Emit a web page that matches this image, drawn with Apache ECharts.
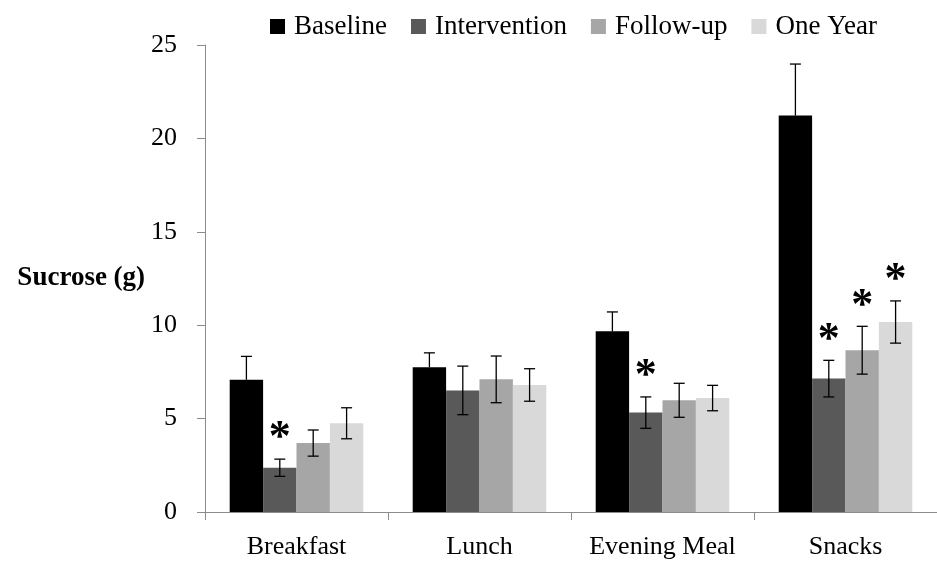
<!DOCTYPE html>
<html><head><meta charset="utf-8">
<script src="https://cdn.jsdelivr.net/npm/echarts@6/dist/echarts.min.js"></script>
<style>html,body{margin:0;padding:0;background:#fff}#c{width:937px;height:568px}</style>
</head><body><div id="c"></div>
<script>
var categories = ['Breakfast', 'Lunch', 'Evening Meal', 'Snacks'];
var seriesNames = ['Baseline', 'Intervention', 'Follow-up', 'One Year'];
var baseline     = [7.08, 7.75, 9.67, 21.22];
var intervention = [2.37, 6.51, 5.32, 7.14];
var followUp     = [3.69, 7.10, 5.98, 8.66];
var oneYear      = [4.75, 6.80, 6.10, 10.17];
var baselineErr     = [1.25, 0.77, 1.04, 2.76];
var interventionErr = [0.46, 1.30, 0.84, 0.98];
var followUpErr     = [0.70, 1.25, 0.91, 1.28];
var oneYearErr      = [0.83, 0.87, 0.68, 1.13];
var baselineSig     = [0, 0, 0, 0];
var interventionSig = [1, 0, 1, 1];
var followUpSig     = [0, 0, 0, 1];
var oneYearSig      = [0, 0, 0, 1];
var yTicks = [0, 5, 10, 15, 20, 25];

var values = [baseline, intervention, followUp, oneYear];
var errs = [baselineErr, interventionErr, followUpErr, oneYearErr];
var sigs = [baselineSig, interventionSig, followUpSig, oneYearSig];
var colors = ['#000000', '#595959', '#a6a6a6', '#d9d9d9'];
var FONT = 'Liberation Serif';
var CAT_GAP = 0.27;

var series = [];
seriesNames.forEach(function (name, i) {
  series.push({
    name: name, type: 'bar', data: values[i],
    barGap: '0%', barCategoryGap: (CAT_GAP * 100) + '%',
    itemStyle: { color: colors[i] },
    emphasis: { disabled: true }
  });
});
seriesNames.forEach(function (name, i) {
  series.push({
    type: 'custom', silent: true, z: 5,
    data: values[i].map(function (v, k) { return [k, v, errs[i][k], sigs[i][k]]; }),
    encode: { x: 0, y: [1] },
    renderItem: function (params, api) {
      var k = api.value(0), v = api.value(1), e = api.value(2), s = api.value(3);
      var bandW = api.size([1, 0])[0];
      var barW = bandW * (1 - CAT_GAP) / 4;
      var c = api.coord([k, v]);
      var x = c[0] + (i - 1.5) * barW;
      var top = api.coord([k, v + e])[1];
      var bot = api.coord([k, v - e])[1];
      var cap = 5.5;
      var st = { stroke: '#000', lineWidth: 1.3 };
      var kids = [
        { type: 'line', shape: { x1: x, y1: top, x2: x, y2: (i === 0 ? c[1] : bot) }, style: st },
        { type: 'line', shape: { x1: x - cap, y1: top, x2: x + cap, y2: top }, style: st }
      ];
      if (i !== 0) kids.push({ type: 'line', shape: { x1: x - cap, y1: bot, x2: x + cap, y2: bot }, style: st });
      if (s) kids.push({ type: 'text', style: { text: '*', x: x, y: top - 20, align: 'center', verticalAlign: 'middle', font: 'bold 44px ' + FONT, fill: '#000' } });
      return { type: 'group', children: kids };
    }
  });
});

var chart = echarts.init(document.getElementById('c'));
chart.setOption({
  animation: false,
  textStyle: { fontFamily: FONT },
  legend: {
    data: seriesNames, top: 8, left: 265, itemWidth: 15, itemHeight: 15, itemGap: 24,
    textStyle: { fontFamily: FONT, fontSize: 27, color: '#000', padding: [0, 0, 0, 4] },
    icon: 'rect'
  },
  grid: { left: 205, right: 0, top: 45, bottom: 56, outerBoundsMode: 'none', containLabel: false },
  xAxis: {
    type: 'category', data: categories,
    axisLine: { lineStyle: { color: '#8c8c8c', width: 1 } },
    axisTick: { show: true, length: 8, lineStyle: { color: '#8c8c8c' } },
    axisLabel: { fontFamily: FONT, fontSize: 26, color: '#000', margin: 22, interval: 0 }
  },
  yAxis: {
    type: 'value', min: 0, max: 25, interval: 5,
    name: 'Sucrose (g)', nameLocation: 'middle', nameRotate: 0, nameGap: 58,
    nameTextStyle: { fontFamily: FONT, fontSize: 27, fontWeight: 'bold', color: '#000', align: 'right', verticalAlign: 'middle' },
    splitLine: { show: false },
    axisLine: { show: true, lineStyle: { color: '#8c8c8c', width: 1 } },
    axisTick: { show: true, length: 8, lineStyle: { color: '#8c8c8c' } },
    axisLabel: { fontFamily: FONT, fontSize: 26, color: '#000', margin: 28,
      formatter: function (v) { return yTicks.indexOf(v) >= 0 ? String(v) : ''; } }
  },
  series: series
});
</script></body></html>
